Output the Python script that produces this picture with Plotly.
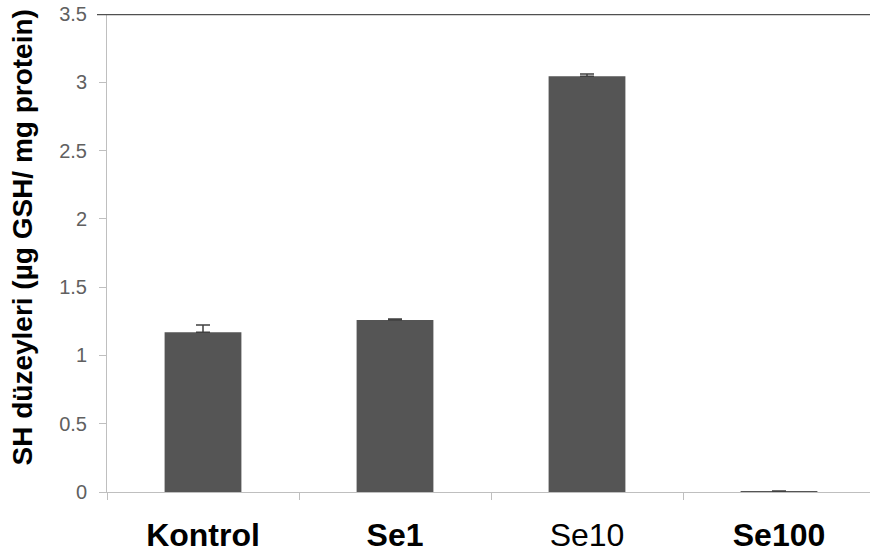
import plotly.graph_objects as go

categories = ["Kontrol", "Se1", "Se10", "Se100"]
tick_labels = ["<b>Kontrol</b>", "<b>Se1</b>", "Se10", "<b>Se100</b>"]
values = [1.17, 1.26, 3.045, 0.001]
errors_up = [0.052, 0.006, 0.015, 0.007]
errors_down = [0, 0, 0, 0]
y_ticks = [0, 0.5, 1, 1.5, 2, 2.5, 3, 3.5]
y_tick_labels = ["0", "0.5", "1", "1.5", "2", "2.5", "3", "3.5"]
y_title = "<b>SH düzeyleri (µg GSH/ mg protein)</b>"

W, H = 870, 556
L, R, T, B = 107, 0, 14, 64
plot_w = W - L - R
plot_h = H - T - B
cat_px = 192.0

fig = go.Figure()
fig.add_trace(go.Bar(
    x=categories, y=values,
    width=0.4,
    marker=dict(color="#555555", line=dict(width=0)),
    error_y=dict(type="data", symmetric=False, array=errors_up, arrayminus=errors_down,
                 visible=True, color="#404040", thickness=1.5, width=7),
))

fig.update_layout(
    width=W, height=H,
    margin=dict(l=L, r=R, t=T, b=B, autoexpand=False),
    paper_bgcolor="white", plot_bgcolor="white",
    showlegend=False,
    font=dict(family="Liberation Sans, Arial, sans-serif"),
    xaxis=dict(
        type="category",
        categoryorder="array", categoryarray=categories,
        range=[-0.5, -0.5 + plot_w / cat_px],
        tickmode="array", tickvals=categories, ticktext=tick_labels,
        tickson="boundaries",
        ticks="outside", ticklen=7, tickcolor="#bfbfbf", tickwidth=1,
        ticklabelstandoff=15,
        showline=True, linecolor="#bfbfbf", linewidth=1,
        showgrid=False, zeroline=False,
        tickfont=dict(family="Liberation Sans, Arial, sans-serif", size=32, color="#000000"),
        automargin=False,
    ),
    yaxis=dict(
        range=[0, 3.5],
        tickmode="array", tickvals=y_ticks, ticktext=y_tick_labels,
        ticks="outside", ticklen=7, tickcolor="#bfbfbf", tickwidth=1,
        ticklabelstandoff=8,
        showline=True, linecolor="#bfbfbf", linewidth=1,
        showgrid=False, zeroline=False,
        tickfont=dict(family="Liberation Sans, Arial, sans-serif", size=20, color="#606060"),
        automargin=False,
    ),
    annotations=[dict(
        text=y_title, textangle=-90,
        xref="paper", yref="paper",
        x=(22 - L) / plot_w, y=(492 - 237.5) / plot_h,
        xanchor="center", yanchor="middle", showarrow=False,
        font=dict(family="Liberation Sans, Arial, sans-serif", size=28, color="#000000"),
    )],
    shapes=[dict(
        type="line", xref="paper", yref="y",
        x0=-10 / plot_w, x1=1, y0=3.5, y1=3.5,
        line=dict(color="#505050", width=2.5),
    )],
)

fig.write_html("out.html", config={"displayModeBar": False},
               post_script="document.body.style.margin='0px';")
